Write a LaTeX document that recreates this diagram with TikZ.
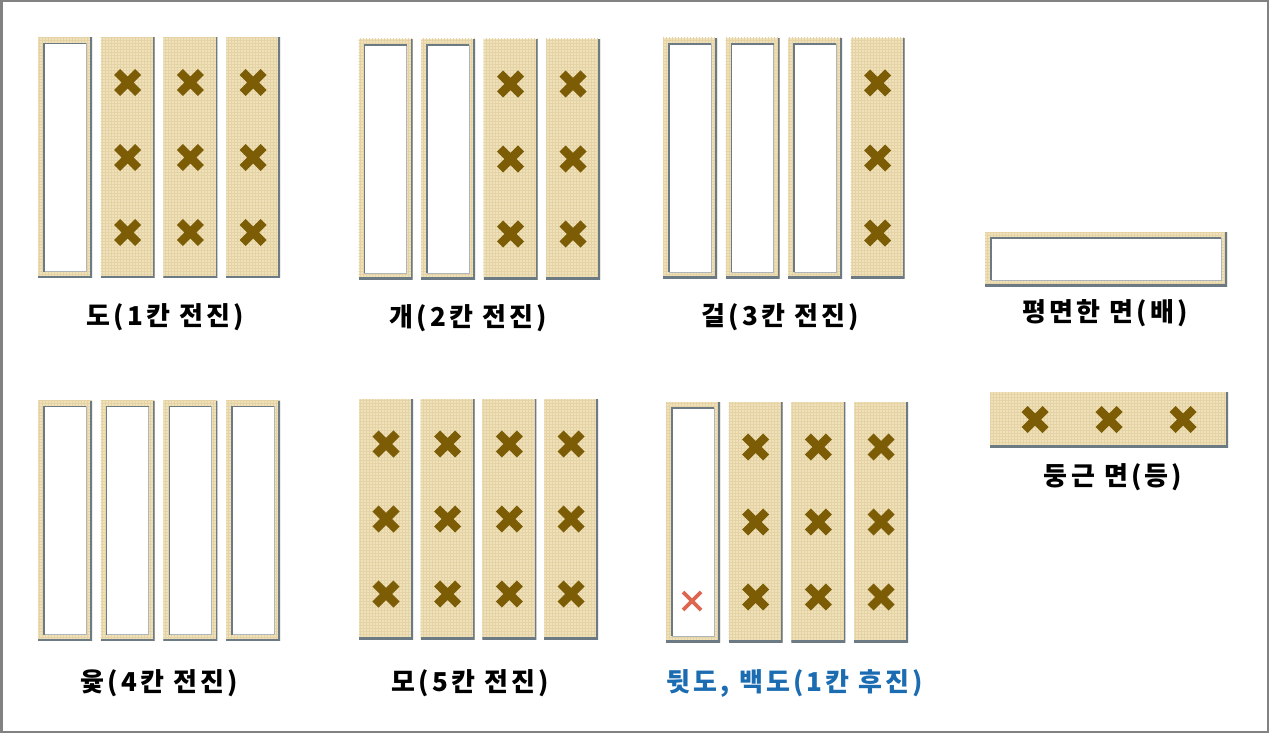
\documentclass[tikz,border=0pt]{standalone}
\usepackage{fontspec}
\newfontfamily\krfont{Noto Sans CJK KR}[LetterSpace=12]
\usetikzlibrary{patterns,calc}
\definecolor{wood}{RGB}{239,225,186}
\definecolor{woodline}{RGB}{229,211,166}
\definecolor{shadec}{RGB}{108,122,132}
\definecolor{crossc}{RGB}{124,92,4}
\definecolor{redx}{RGB}{222,102,80}
\definecolor{bluet}{RGB}{28,108,178}
\definecolor{framec}{RGB}{130,130,130}
\newcommand{\woodtex}{\fill[pattern=grid, pattern color=woodline] (path picture bounding box.south west) rectangle (path picture bounding box.north east);}
\newcommand{\edgeshade}{\draw[shadec, line width=3.5pt] (path picture bounding box.north east) -- (path picture bounding box.south east) -- (path picture bounding box.south west);}
\newcommand{\flatinner}{%
  \fill[white, draw=shadec!55, line width=0.9pt] ([xshift=6pt,yshift=-6pt]path picture bounding box.north west) rectangle ([xshift=-6pt,yshift=6pt]path picture bounding box.south east);
  \draw[shadec, line width=1.4pt] ([xshift=6pt,yshift=6pt]path picture bounding box.south west) -- ([xshift=6pt,yshift=-6pt]path picture bounding box.north west) -- ([xshift=-6pt,yshift=-6pt]path picture bounding box.north east);}
\tikzset{
  stickbase/.style={rectangle, inner sep=0pt, outer sep=0pt, fill=wood, draw=none},
  vstick/.style={stickbase, minimum width=54pt, minimum height=240pt},
  hstick/.style={stickbase, minimum width=240pt, minimum height=54pt},
  roundface/.style={path picture={\woodtex\edgeshade}},
  flatface/.style={path picture={\woodtex\edgeshade\flatinner}},
  xmark/.pic={\draw[crossc, line width=8.5pt] (-10.5,-10.5) -- (10.5,10.5) (-10.5,10.5) -- (10.5,-10.5);},
  redmark/.pic={\draw[redx, line width=3.8pt] (-9,-9) -- (9,9) (-9,9) -- (9,-9);},
  lab/.style={inner sep=0pt, font=\krfont\bfseries\fontsize{26}{30}\selectfont, text=black},
}
\begin{document}
\begin{tikzpicture}[x=1pt,y=-1pt]
\useasboundingbox (0,0) rectangle (1269,733);
\fill[white] (0,0) rectangle (1269,733);
\draw[framec, line width=2.5pt] (1.25,1.25) rectangle (1267.75,731.75);

% 도
\foreach \i/\f in {1/flatface,2/roundface,3/roundface,4/roundface}
  \node[vstick,\f] (do\i) at ({65+(\i-1)*62.7},157.5) {};
\foreach \i in {2,3,4} \foreach \dy in {-75,0,75} \pic at ($(do\i)+(0,\dy)$) {xmark};
\node[lab] (ldo) at (165,317) {도(1칸 전진)};

% 개
\foreach \i/\f in {1/flatface,2/flatface,3/roundface,4/roundface}
  \node[vstick,\f] (gae\i) at ({385.5+(\i-1)*62.5},159) {};
\foreach \i in {3,4} \foreach \dy in {-75,0,75} \pic at ($(gae\i)+(0,\dy)$) {xmark};
\node[lab] (lgae) at (468,318) {개(2칸 전진)};

% 걸
\foreach \i/\f in {1/flatface,2/flatface,3/flatface,4/roundface}
  \node[vstick,\f] (geol\i) at ({690+(\i-1)*62.5},158) {};
\foreach \dy in {-75,0,75} \pic at ($(geol4)+(0,\dy)$) {xmark};
\node[lab] (lgeol) at (780,317) {걸(3칸 전진)};

% 윷
\foreach \i in {1,2,3,4}
  \node[vstick,flatface] (yut\i) at ({65+(\i-1)*62.7},520.5) {};
\node[lab] (lyut) at (159,683) {윷(4칸 전진)};

% 모
\foreach \i in {1,2,3,4}
  \node[vstick,roundface] (mo\i) at ({386+(\i-1)*61.7},519) {};
\foreach \i in {1,2,3,4} \foreach \dy in {-75,0,75} \pic at ($(mo\i)+(0,\dy)$) {xmark};
\node[lab] (lmo) at (470,683) {모(5칸 전진)};

% 뒷도
\foreach \i/\f in {1/flatface,2/roundface,3/roundface,4/roundface}
  \node[vstick,\f] (bd\i) at ({693+(\i-1)*62.7},522) {};
\foreach \i in {2,3,4} \foreach \dy in {-75,0,75} \pic at ($(bd\i)+(0,\dy)$) {xmark};
\pic at ($(bd1)+(-1,79)$) {redmark};
\node[lab, text=bluet] (lbd) at (795,683) {뒷도, 백도(1칸 후진)};

% 배 / 등
\node[hstick,flatface, minimum width=242pt] (flat) at (1106,259) {};
\node[lab] (lflat) at (1105,313) {평면한 면(배)};
\node[hstick,roundface, minimum width=238pt, minimum height=55pt] (round) at (1109,419.5) {};
\foreach \dx in {-74,0,74} \pic at ($(round)+(\dx,0)$) {xmark};
\node[lab] (lround) at (1113,477) {둥근 면(등)};
\end{tikzpicture}
\end{document}
